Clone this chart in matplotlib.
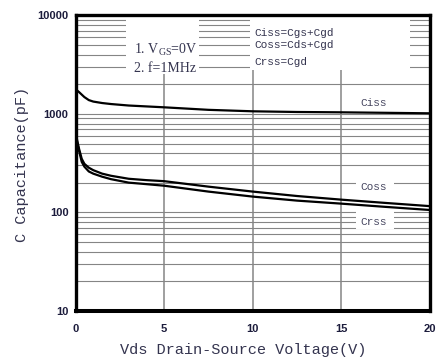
import matplotlib
matplotlib.use("Agg")
import matplotlib.pyplot as plt
from matplotlib.patches import Rectangle
from matplotlib.ticker import FixedLocator, NullFormatter, FixedFormatter

plt.rcParams['mathtext.fontset'] = 'custom'
plt.rcParams['mathtext.rm'] = 'Liberation Serif'

# ---- data ----
v_ciss = [0, 0.2, 0.5, 0.75, 1, 1.5, 2, 3, 5, 7.5, 10, 12.5, 15, 17.5, 20]
ciss = [1790, 1668, 1485, 1384, 1337, 1292, 1262, 1219, 1169, 1102, 1065, 1048, 1040, 1028, 1016]

v_oss = [0, 0.1, 0.2, 0.35, 0.5, 0.75, 1, 1.5, 2, 3, 4, 5, 7.5, 10, 12.5, 15, 17.5, 20]
coss = [658, 534, 443, 351, 312, 285, 269, 248, 236, 220, 213, 208, 183, 163, 147, 135, 125, 116]
crss = [628, 509, 423, 327, 292, 261, 248, 231, 218, 201, 194, 187, 163, 145, 132, 123, 114, 106]

x_ticks = [0, 5, 10, 15, 20]
y_ticks = [10, 100, 1000, 10000]
y_ticklabels = ['10', '100', '1000', '10000']

cond_lines = ["1. V$_{\\mathrm{GS}}$=0V", "2. f=1MHz"]
def_lines = ["Ciss=Cgs+Cgd", "Coss=Cds+Cgd", "Crss=Cgd"]
curve_names = ["Ciss", "Coss", "Crss"]

# ---- figure ----
fig = plt.figure(figsize=(4.38, 3.61), dpi=100)
ax = fig.add_axes([0.1724, 0.1385, 0.8094, 0.8186])
ax.set_yscale('log')
ax.set_xlim(0, 20)
ax.set_ylim(10, 10000)

minor = [m * 10 ** e for e in range(1, 4) for m in range(2, 10)]
ax.yaxis.set_major_locator(FixedLocator(y_ticks))
ax.yaxis.set_major_formatter(FixedFormatter(y_ticklabels))
ax.yaxis.set_minor_locator(FixedLocator(minor))
ax.yaxis.set_minor_formatter(NullFormatter())
ax.set_xticks(x_ticks)
ax.set_xticklabels([str(t) for t in x_ticks])

grid_c = '#858585'
ax.grid(axis='y', which='both', color=grid_c, lw=0.8, zorder=1)
ax.grid(axis='x', which='major', color=grid_c, lw=1.1, zorder=1)
ax.set_axisbelow(True)

ax.tick_params(which='both', length=0)
ax.tick_params(axis='y', pad=5)
ax.tick_params(axis='x', pad=9)
tick_col = '#1c1c3c'
for lab in ax.get_xticklabels() + ax.get_yticklabels():
    lab.set_fontfamily('Liberation Sans')
    lab.set_fontsize(8)
    lab.set_fontweight('bold')
    lab.set_color(tick_col)

for s in ax.spines.values():
    s.set_linewidth(2.4)
    s.set_color('black')
    s.set_zorder(6)
ax.spines['bottom'].set_linewidth(2.9)

# white boxes hiding the grid behind notes
for (x0, y0, w, h) in [(0.142, 0.801, 0.205, 0.196),
                       (0.491, 0.815, 0.452, 0.182),
                       (0.790, 0.400, 0.108, 0.044),
                       (0.790, 0.276, 0.108, 0.061)]:
    ax.add_patch(Rectangle((x0, y0), w, h, transform=ax.transAxes,
                           facecolor='white', edgecolor='none', zorder=2))

ax.plot(v_ciss, ciss, color='black', lw=1.6, zorder=4, solid_capstyle='round')
ax.plot(v_oss, coss, color='black', lw=1.6, zorder=4, solid_capstyle='round')
ax.plot(v_oss, crss, color='black', lw=1.6, zorder=4, solid_capstyle='round')

txt_col = '#34344f'
for s, y in zip(cond_lines, [0.883, 0.822]):
    ax.text(0.165, y, s, transform=ax.transAxes, fontfamily='Liberation Serif',
            fontsize=10, color=txt_col, va='center', ha='left', zorder=5)
for s, y in zip(def_lines, [0.942, 0.900, 0.844]):
    ax.text(0.504, y, s, transform=ax.transAxes, fontfamily='Liberation Mono',
            fontsize=8, color=txt_col, va='center', ha='left', zorder=5)
for s, y in zip(curve_names, [0.704, 0.420, 0.301]):
    ax.text(0.803, y, s, transform=ax.transAxes, fontfamily='Liberation Mono',
            fontsize=8, color='#45455f', va='center', ha='left', zorder=5)

fig.text(0.556, 0.030, "Vds Drain-Source Voltage(V)", fontfamily='Liberation Mono',
         fontsize=11, color=txt_col, ha='center', va='center')
fig.text(0.050, 0.545, "C Capacitance(pF)", fontfamily='Liberation Mono',
         fontsize=11, color=txt_col, ha='center', va='center', rotation=90)

fig.savefig('out.png', dpi=100)
